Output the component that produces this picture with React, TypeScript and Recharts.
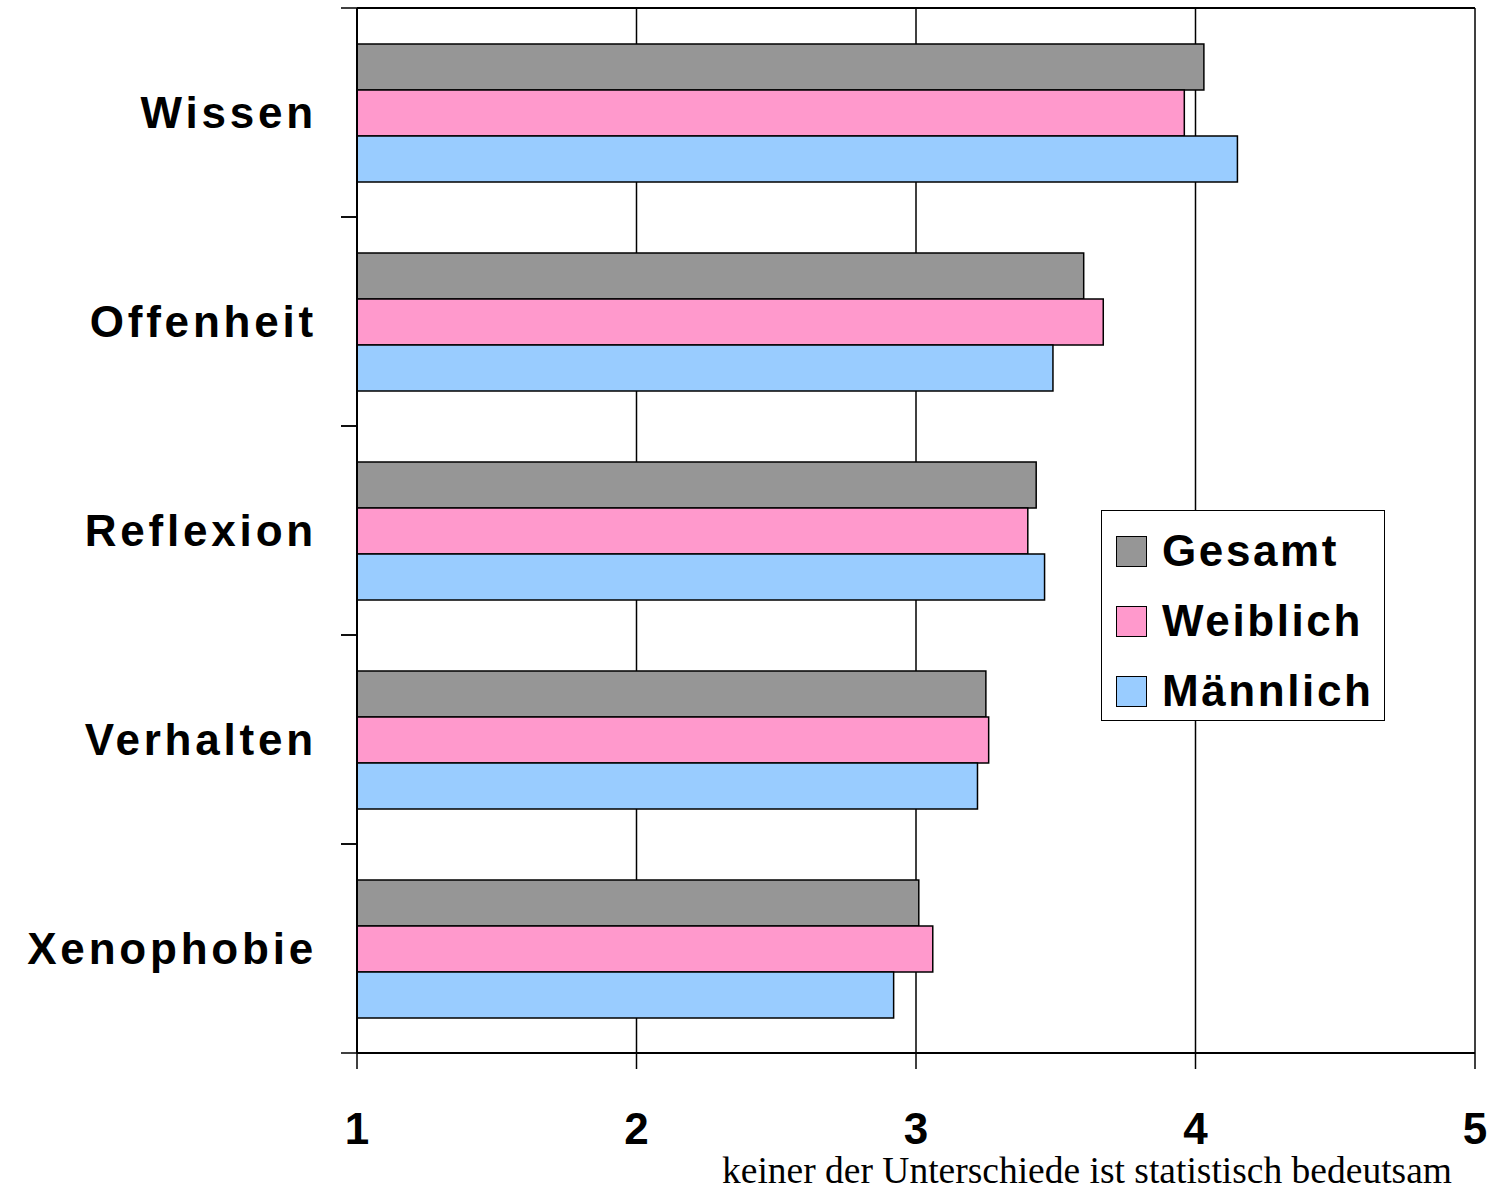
import React from 'react';
import { BarChart, Bar, XAxis, YAxis, CartesianGrid, Legend } from 'recharts';

const categories = ['Wissen', 'Offenheit', 'Reflexion', 'Verhalten', 'Xenophobie'];
const gesamt = [4.03, 3.6, 3.43, 3.25, 3.01];
const weiblich = [3.96, 3.67, 3.4, 3.26, 3.06];
const maennlich = [4.15, 3.49, 3.46, 3.22, 2.92];
const xTicks = [1, 2, 3, 4, 5];
const seriesNames = ['Gesamt', 'Weiblich', 'Männlich'];
const seriesColors = ['#969696', '#FF99CC', '#99CCFF'];
const footnote = 'keiner der Unterschiede ist statistisch bedeutsam';

const seriesValues = [gesamt, weiblich, maennlich];
const data = categories.map((c, i) => {
  const row: Record<string, any> = { name: c };
  seriesNames.forEach((s, k) => {
    row[s] = seriesValues[k][i];
  });
  return row;
});

const SANS = '"Liberation Sans", Arial, Helvetica, sans-serif';
const TICK_MARGIN = 40;
const TICK_LEN = 16;

const CategoryTick = (props: any) => {
  const { x, y, payload } = props;
  const axisX = x + TICK_MARGIN;
  const half = typeof payload?.offset === 'number' ? payload.offset : 0;
  return (
    <g>
      {half > 0 && (
        <>
          <line x1={axisX - TICK_LEN} x2={axisX} y1={y - half} y2={y - half} stroke="#000" strokeWidth={1.5} />
          <line x1={axisX - TICK_LEN} x2={axisX} y1={y + half} y2={y + half} stroke="#000" strokeWidth={1.5} />
        </>
      )}
      <text
        x={x}
        y={y}
        dy="0.355em"
        textAnchor="end"
        fill="#000"
        fontFamily={SANS}
        fontWeight="bold"
        fontSize={44}
        letterSpacing={3.8}
      >
        {payload.value}
      </text>
    </g>
  );
};

const renderLegend = () => (
  <div
    style={{
      width: 284,
      height: 211,
      boxSizing: 'border-box',
      border: '1.5px solid #000',
      background: '#fff',
      paddingTop: 5,
      paddingLeft: 14,
    }}
  >
    {seriesNames.map((n, i) => (
      <div key={n} style={{ display: 'flex', alignItems: 'center', height: 70 }}>
        <div
          style={{
            width: 31,
            height: 31,
            boxSizing: 'border-box',
            border: '1.5px solid #000',
            background: seriesColors[i],
            marginRight: 15,
          }}
        />
        <span
          style={{
            fontFamily: SANS,
            fontWeight: 'bold',
            fontSize: 44,
            letterSpacing: 2.6,
            color: '#000',
            lineHeight: '44px',
          }}
        >
          {n}
        </span>
      </div>
    ))}
  </div>
);

export default function App() {
  return (
    <div style={{ position: 'absolute', left: 0, top: 0, width: 1503, height: 1188, background: '#fff' }}>
      <BarChart
        width={1503}
        height={1188}
        data={data}
        layout="vertical"
        margin={{ top: 7, right: 28, bottom: 0, left: 0 }}
        barGap={0}
        barSize={46}
      >
        <CartesianGrid
          xAxisId="bottom"
          yAxisId="cat"
          horizontal={false}
          vertical={true}
          stroke="#000"
          strokeWidth={1.5}
        />
        <XAxis
          xAxisId="bottom"
          type="number"
          domain={[1, 5]}
          ticks={xTicks}
          height={135}
          tickSize={16}
          tickMargin={44}
          axisLine={{ stroke: '#000', strokeWidth: 2 }}
          tickLine={{ stroke: '#000', strokeWidth: 1.5 }}
          tick={{ fill: '#000', fontFamily: SANS, fontWeight: 'bold', fontSize: 44 }}
        />
        <XAxis
          xAxisId="top"
          orientation="top"
          type="number"
          domain={[1, 5]}
          height={1}
          tick={false}
          tickLine={false}
          axisLine={{ stroke: '#000', strokeWidth: 2 }}
        />
        <YAxis
          yAxisId="cat"
          type="category"
          dataKey="name"
          width={357}
          tickLine={false}
          tickSize={0}
          tickMargin={TICK_MARGIN}
          axisLine={{ stroke: '#000', strokeWidth: 2 }}
          tick={CategoryTick}
        />
        {seriesNames.map((s, i) => (
          <Bar
            key={s}
            dataKey={s}
            xAxisId="bottom"
            yAxisId="cat"
            fill={seriesColors[i]}
            stroke="#000"
            strokeWidth={1.5}
            isAnimationActive={false}
          />
        ))}
        <Legend
          layout="vertical"
          align="center"
          verticalAlign="middle"
          content={renderLegend}
          wrapperStyle={{ left: 1101, top: 510, width: 284, height: 211 }}
        />
      </BarChart>
      <div
        style={{
          position: 'absolute',
          left: 722,
          top: 1152,
          fontFamily: '"Liberation Serif", "Times New Roman", serif',
          fontSize: 37.5,
          lineHeight: '37px',
          whiteSpace: 'nowrap',
          color: '#000',
        }}
      >
        {footnote}
      </div>
    </div>
  );
}
